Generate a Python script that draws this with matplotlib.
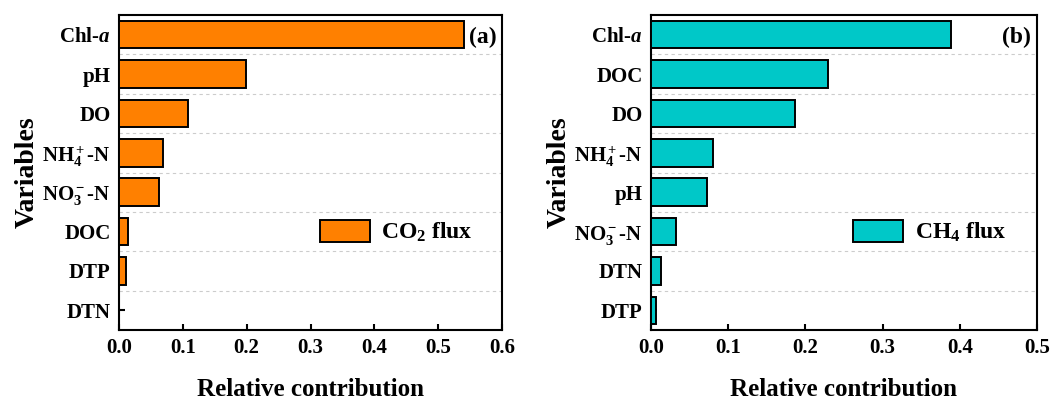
import matplotlib
matplotlib.use("Agg")
import matplotlib.pyplot as plt
import numpy as np

plt.rcParams['font.family'] = ['Liberation Serif', 'DejaVu Serif']
plt.rcParams['font.weight'] = 'bold'
plt.rcParams['mathtext.fontset'] = 'custom'
plt.rcParams['mathtext.rm'] = 'Liberation Serif:bold'
plt.rcParams['mathtext.it'] = 'Liberation Serif:italic:bold'
plt.rcParams['mathtext.bf'] = 'Liberation Serif:bold'

# panel (a): CO2 flux, top to bottom
vars_co2 = [r'Chl-$\mathit{a}$', 'pH', 'DO', r'NH$_4^+$-N', r'NO$_3^-$-N', 'DOC', 'DTP', 'DTN']
vals_co2 = [0.540, 0.199, 0.108, 0.069, 0.063, 0.014, 0.011, 0.0]

# panel (b): CH4 flux, top to bottom
vars_ch4 = [r'Chl-$\mathit{a}$', 'DOC', 'DO', r'NH$_4^+$-N', 'pH', r'NO$_3^-$-N', 'DTN', 'DTP']
vals_ch4 = [0.389, 0.229, 0.187, 0.080, 0.073, 0.032, 0.0126, 0.0065]

fig = plt.figure(figsize=(10.58, 3.99), dpi=100)
ax1 = fig.add_axes([119/1058, 1 - 330/399, 383/1058, 315/399])
ax2 = fig.add_axes([651/1058, 1 - 330/399, 386/1058, 315/399])


def panel(ax, names, vals, color, xmax, tag, leg):
    n = len(names)
    y = np.arange(n)[::-1]
    ax.barh(y, vals, height=0.7, color=color, edgecolor='black', linewidth=1.4, label=leg, zorder=3)
    ax.set_ylim(-0.5, n - 0.5)
    ax.set_xlim(0, xmax)
    ax.set_yticks(y)
    ax.set_yticklabels(names, fontsize=15, fontweight='bold')
    ax.set_xticks(np.arange(0, xmax + 0.001, 0.1))
    ax.set_xticklabels(['%.1f' % v for v in np.arange(0, xmax + 0.001, 0.1)], fontsize=15, fontweight='bold')
    ax.set_yticks(np.arange(n - 1) + 0.5, minor=True)
    ax.grid(axis='y', which='minor', linestyle=(0, (3, 3)), color='#cccccc', linewidth=0.8, zorder=0)
    ax.tick_params(axis='both', which='major', direction='in', length=4, width=1.5, pad=6)
    ax.tick_params(axis='y', which='minor', length=0)
    for s in ax.spines.values():
        s.set_linewidth(1.5)
    ax.set_xlabel('Relative contribution', fontsize=18, fontweight='bold', labelpad=14)
    ax.set_ylabel('Variables', fontsize=20, fontweight='bold', labelpad=2)
    ax.text(0.985, 0.93, tag, transform=ax.transAxes, ha='right', va='center', fontsize=17, fontweight='bold')
    ax.legend(loc='center left', bbox_to_anchor=(0.5, 0.31), frameon=False, fontsize=17,
              handlelength=2.1, handleheight=1.0, handletextpad=0.5, borderaxespad=0)


panel(ax1, vars_co2, vals_co2, '#FF8000', 0.6, '(a)', r'CO$_2$ flux')
panel(ax2, vars_ch4, vals_ch4, '#00C8C8', 0.5, '(b)', r'CH$_4$ flux')

fig.savefig('out.png', dpi=100)
